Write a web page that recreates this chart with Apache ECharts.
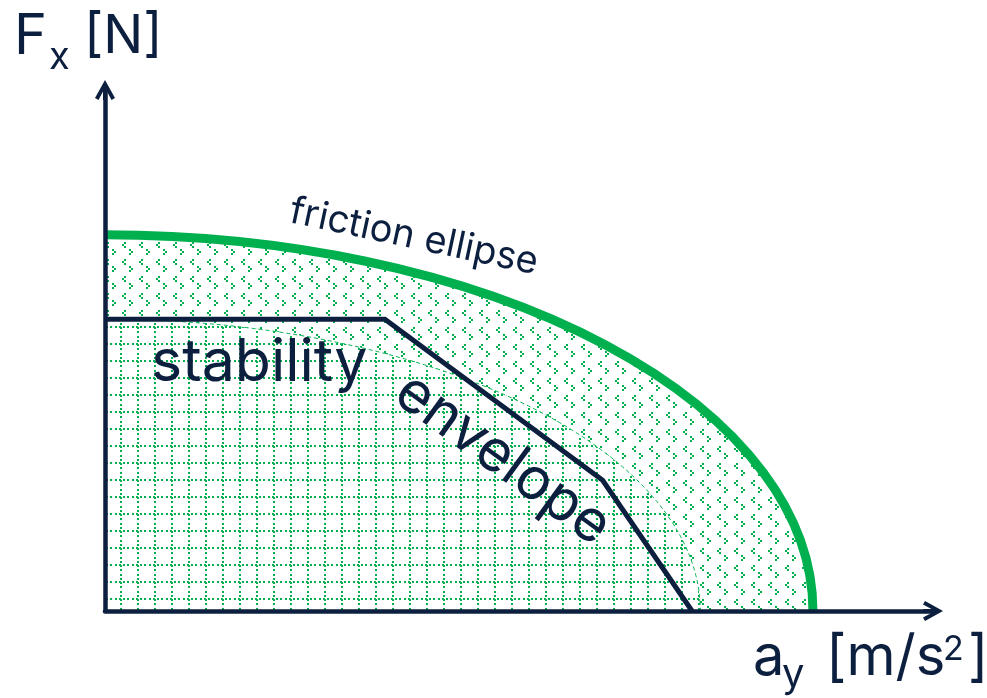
<!DOCTYPE html>
<html>
<head>
<meta charset="utf-8">
<script src="https://cdn.jsdelivr.net/npm/echarts@6/dist/echarts.min.js"></script>
<style>
  html, body { margin: 0; padding: 0; background: #fff; }
  #chart { width: 987px; height: 698px; }
</style>
</head>
<body>
<div id="chart"></div>
<script>
// no ticks on the sketch, so both axes run 0..100 in plain chart units
const axisMax = [100, 100];                 // [ay, Fx]
const frictionEllipse = [85.5, 72.2];       // [ay reach, Fx reach]
const innerEllipse = [71.9, 56.0];          // dashed boundary of the grid area
const envelopeAy = [0, 33.8, 60.1, 70.9];
const envelopeFx = [56.0, 56.0, 25.1, 0];

const NAVY = '#0c1f3f';
const GREEN = '#00b04f';
const FONT = 'Inter';

// chevron arrow head, pointing up, with a stub of shaft
const arrowHead = 'path://M10,0 L20,18 L16.5,20 L12,11.5 L12,20 L8,20 L8,11.5 L3.5,20 L0,18 Z';

// little > and < marks between the two ellipses
function chevronTile() {
  const c = document.createElement('canvas');
  c.width = 17; c.height = 17;
  const g = c.getContext('2d');
  g.fillStyle = GREEN;
  // ">"
  g.fillRect(10, 11, 2, 2); g.fillRect(12, 13, 2, 2); g.fillRect(10, 15, 2, 2);
  // "<"
  g.fillRect(5, 4, 2, 2); g.fillRect(3, 6, 2, 2); g.fillRect(5, 8, 2, 2);
  return c;
}

// dotted square grid inside the inner ellipse
function gridTile() {
  const c = document.createElement('canvas');
  c.width = 17; c.height = 17;
  const g = c.getContext('2d');
  g.fillStyle = '#fff';
  g.fillRect(0, 0, 17, 17);
  g.fillStyle = GREEN;
  [0, 4, 8, 13].forEach(function (p) {
    g.fillRect(1, p, 2, 2);   // vertical line
    g.fillRect(p, 3, 2, 2);   // horizontal line
  });
  return c;
}

function quarterPath(api, closed) {
  const rx = api.value(0), ry = api.value(1);
  const o = api.coord([0, 0]);
  const t = api.coord([0, ry]);
  const r = api.coord([rx, 0]);
  const a = r[0] - o[0], b = o[1] - t[1];
  let d = 'M' + t[0] + ',' + t[1] + ' A' + a + ',' + b + ' 0 0 1 ' + r[0] + ',' + r[1];
  if (closed) d += ' L' + o[0] + ',' + o[1] + ' Z';
  return d;
}

function txt(text, x, y, size, opts) {
  opts = opts || {};
  return {
    type: 'text',
    x: x, y: y,
    rotation: opts.rotation || 0,
    z: 100,
    style: {
      text: text,
      font: size + 'px ' + FONT,
      fill: NAVY,
      align: opts.align || 'left',
      verticalAlign: 'middle',
      textAlign: opts.align || 'left',
      textVerticalAlign: 'middle'
    }
  };
}

const chart = echarts.init(document.getElementById('chart'));

const axisLine = {
  show: true,
  onZero: false,
  symbol: ['none', arrowHead],
  symbolSize: [20, 20],
  lineStyle: { color: NAVY, width: 4.5 }
};

const option = {
  animation: false,
  grid: { left: 105, right: 54, top: 90, bottom: 87 },
  xAxis: {
    type: 'value', min: 0, max: axisMax[0], z: 10,
    axisLine: axisLine,
    axisTick: { show: false }, axisLabel: { show: false }, splitLine: { show: false }
  },
  yAxis: {
    type: 'value', min: 0, max: axisMax[1], z: 10,
    axisLine: axisLine,
    axisTick: { show: false }, axisLabel: { show: false }, splitLine: { show: false }
  },
  series: [
    {
      name: 'ring', type: 'custom', silent: true, z: 1,
      data: [frictionEllipse],
      renderItem: function (params, api) {
        return {
          type: 'path',
          shape: { pathData: quarterPath(api, true) },
          style: { fill: { image: chevronTile(), repeat: 'repeat' }, stroke: null }
        };
      }
    },
    {
      name: 'inner', type: 'custom', silent: true, z: 2,
      data: [innerEllipse],
      renderItem: function (params, api) {
        return {
          type: 'path',
          shape: { pathData: quarterPath(api, true) },
          style: { fill: { image: gridTile(), repeat: 'repeat' }, stroke: null }
        };
      }
    },
    {
      name: 'inner edge', type: 'custom', silent: true, z: 3,
      data: [innerEllipse],
      renderItem: function (params, api) {
        return {
          type: 'path',
          shape: { pathData: quarterPath(api, false) },
          style: { fill: null, stroke: GREEN, lineWidth: 1, lineDash: [4, 3] }
        };
      }
    },
    {
      name: 'friction ellipse', type: 'custom', silent: true, z: 4,
      data: [frictionEllipse],
      renderItem: function (params, api) {
        return {
          type: 'path',
          shape: { pathData: quarterPath(api, false) },
          style: { fill: null, stroke: GREEN, lineWidth: 9 }
        };
      }
    },
    {
      name: 'stability envelope', type: 'line', z: 5,
      data: envelopeAy.map(function (v, i) { return [v, envelopeFx[i]]; }),
      symbol: 'none',
      lineStyle: { color: NAVY, width: 5, join: 'miter' }
    }
  ],
  graphic: [
    txt('F', 14, 37, 56),
    txt('x', 49, 58, 38),
    txt('[N]', 84, 37, 53),
    txt('a', 753, 658, 56),
    txt('y', 782, 675, 40),
    txt('[m/s', 826, 658, 56),
    txt('2', 943, 650, 34),
    txt(']', 968, 658, 56),
    txt('friction ellipse', 414, 237, 38, { align: 'center', rotation: -12 * Math.PI / 180 }),
    txt('stability', 151, 363, 59),
    txt('envelope', 503, 459, 58, { align: 'center', rotation: -36 * Math.PI / 180 })
  ]
};

chart.setOption(option);
</script>
</body>
</html>
